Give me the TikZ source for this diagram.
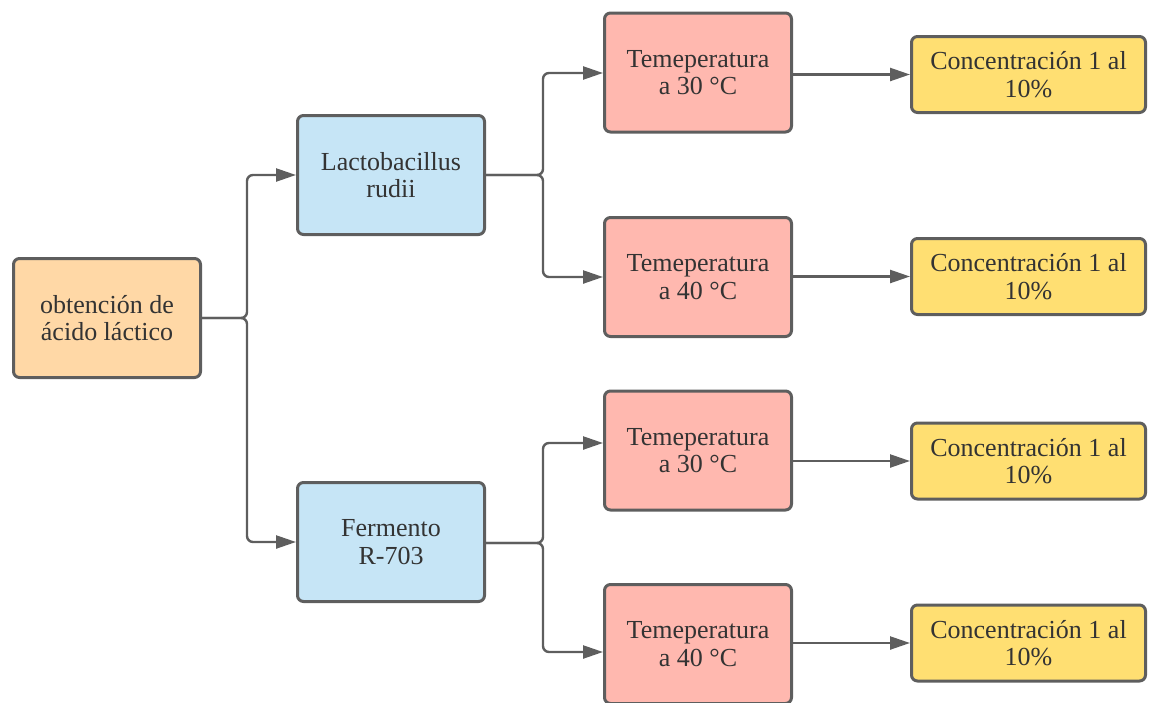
\documentclass[tikz,border=0pt]{standalone}
\usepackage{fontspec}
\setmainfont{Liberation Serif}
\usetikzlibrary{arrows.meta}
\definecolor{edge}{HTML}{5E5E5E}
\definecolor{txt}{HTML}{333333}
\definecolor{orangefill}{HTML}{FFD8A6}
\definecolor{bluefill}{HTML}{C6E5F6}
\definecolor{pinkfill}{HTML}{FFB8AF}
\definecolor{yellowfill}{HTML}{FFDF72}
\tikzset{
  box/.style={draw=edge, line width=3pt, rounded corners=6pt, text=txt, align=center,
    inner sep=0pt, font=\fontsize{26}{27.5}\selectfont},
  bigbox/.style={box, minimum width=187pt, minimum height=119pt},
  smallbox/.style={box, minimum width=234pt, minimum height=76pt},
  orangebox/.style={bigbox, fill=orangefill},
  bluebox/.style={bigbox, fill=bluefill},
  pinkbox/.style={bigbox, fill=pinkfill},
  yellowbox/.style={smallbox, fill=yellowfill},
  conn/.style={draw=edge, line width=2.4pt, rounded corners=6pt,
    -{Triangle[length=20pt,width=13pt]}},
}
\begin{document}
\begin{tikzpicture}[x=1pt,y=-1pt]
\useasboundingbox (0,0) rectangle (1149,702);
\node[orangebox] (A) at (107,318) {obtención de\\ácido láctico};
\node[bluebox] (B1) at (391,175) {Lactobacillus\\rudii};
\node[bluebox] (B2) at (391,542) {Fermento\\R-703};
\node[pinkbox] (C1) at (698,72.5) {Temeperatura\\a 30 °C};
\node[pinkbox] (C2) at (698,277) {Temeperatura\\a 40 °C};
\node[pinkbox] (C3) at (698,450.5) {Temeperatura\\a 30 °C};
\node[pinkbox] (C4) at (698,644) {Temeperatura\\a 40 °C};
\node[yellowbox] (D1) at (1028.5,74.5) {Concentración 1 al\\10\%};
\node[yellowbox] (D2) at (1028.5,276.5) {Concentración 1 al\\10\%};
\node[yellowbox] (D3) at (1028.5,461) {Concentración 1 al\\10\%};
\node[yellowbox] (D4) at (1028.5,643) {Concentración 1 al\\10\%};
% junction coordinates
\coordinate (jA) at (247,318);
\coordinate (jB1) at (543,175);
\coordinate (jB2) at (543,543);
\coordinate (c1in) at (0,73);
\coordinate (c2in) at (0,277);
\coordinate (c3in) at (0,443);
\coordinate (c4in) at (0,652);
% connectors
\draw[conn] (A.east) -- (jA) |- (B1.west);
\draw[conn] (A.east) -- (jA) |- (B2.west);
\draw[conn] (B1.east) -- (jB1) |- (C1.west |- c1in);
\draw[conn] (B1.east) -- (jB1) |- (C2.west |- c2in);
\draw[conn] (B2.east |- jB2) -- (jB2) |- (C3.west |- c3in);
\draw[conn] (B2.east |- jB2) -- (jB2) |- (C4.west |- c4in);
\draw[conn] (C1.east |- D1.west) -- (D1.west);
\draw[conn] (C2.east |- D2.west) -- (D2.west);
\draw[conn] (C3.east |- D3.west) -- (D3.west);
\draw[conn] (C4.east |- D4.west) -- (D4.west);
\end{tikzpicture}
\end{document}
